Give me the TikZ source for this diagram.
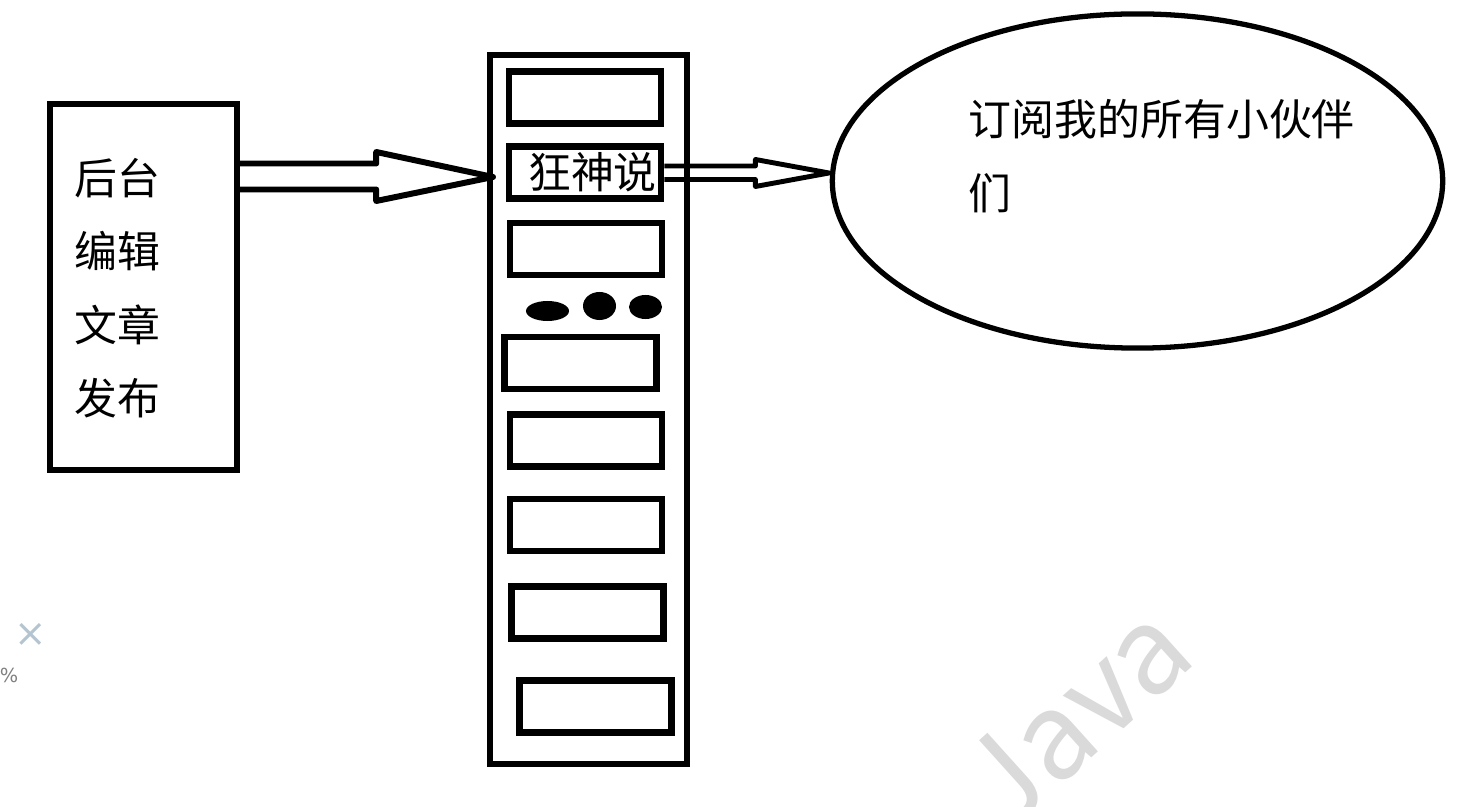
\documentclass[tikz,border=0pt]{standalone}
\usepackage{fontspec}
\newfontfamily\cjk{Noto Sans CJK SC}
\newfontfamily\dvs{DejaVu Sans}
\usetikzlibrary{shapes.geometric,calc}
\definecolor{xcol}{RGB}{180,196,208}
\definecolor{wmcol}{RGB}{218,218,218}
\begin{document}
\begin{tikzpicture}[x=0.01cm,y=-0.01cm,
  box/.style={draw, line width=1.8pt, rectangle, inner sep=0pt},
  slot/.style={draw, line width=1.9pt, rectangle, inner sep=0pt, minimum width=1.52cm, minimum height=0.52cm},
  dot/.style={fill=black, ellipse, inner sep=0pt},
  cn/.style={font=\cjk\fontsize{12.2}{20.9}\selectfont, inner sep=0pt},
  hollow/.style={draw, line width=1.7pt, line join=round},
]
\useasboundingbox[fill=white] (0,0) rectangle (1467,807);

% watermark
\node[text=wmcol, rotate=42, font=\cjk\fontsize{34}{34}\selectfont, inner sep=0pt] (wm) at (1075,715) {Java};

% boxes
\node[box, minimum width=1.87cm, minimum height=3.66cm] (src) at (143.5,287) {};
\node[box, minimum width=1.97cm, minimum height=7.09cm] (rack) at (588.5,409.5) {};
\node[slot] (b1) at (585,97.5) {};
\node[slot] (b2) at (585,172.5) {};
\node[slot] (b3) at (586,249) {};
\node[dot, minimum width=0.43cm, minimum height=0.2cm] (d1) at (547.5,311) {};
\node[dot, minimum width=0.33cm, minimum height=0.28cm] (d2) at (599.5,306) {};
\node[dot, minimum width=0.33cm, minimum height=0.24cm] (d3) at (645.5,307) {};
\node[slot] (b4) at (580.5,363) {};
\node[slot] (b5) at (586,440.5) {};
\node[slot] (b6) at (586,525) {};
\node[slot] (b7) at (587.5,612.5) {};
\node[slot] (b8) at (595.5,706.5) {};
\node[draw, ellipse, line width=1.5pt, minimum width=6.10cm, minimum height=3.34cm, inner sep=0pt] (sub) at (1137.5,181) {};

% texts
\node[cn, align=left] (srct) at ($(src.center)+(-26,1)$) {后台\\编辑\\文章\\发布};
\node[cn] (b2t) at (592.5,172.5) {狂神说};
\node[cn, anchor=west] (st1) at (968,119) {订阅我的所有小伙伴};
\node[cn, anchor=west] (st2) at (968,193) {们};

% arrows
\coordinate (a1tip) at (493,177);
\draw[hollow] ($(src.east)+(0,-123.5)$) -- ++(136,0) -- ++(0,-11.5) -- (a1tip)
  -- ($(src.east)+(136,-86)$) -- ++(0,-11.5) -- ($(src.east)+(0,-97.5)$);
\coordinate (a2tip) at (829,173);
\draw[hollow, line width=1.4pt] ($(b2.east)+(0,-6.5)$) -- ++(91,0) -- ++(0,-6.5) -- (a2tip)
  -- ($(b2.east)+(91,14)$) -- ++(0,-7) -- ($(b2.east)+(0,7)$);

% stray marks
\node[text=xcol, font=\dvs\fontsize{11}{11}\selectfont, inner sep=0pt] (xm) at (30.5,635) {×};
\node[text=gray, font=\dvs\fontsize{5.5}{6}\selectfont, inner sep=0pt] (pc) at (9,675) {\%};
\end{tikzpicture}
\end{document}
